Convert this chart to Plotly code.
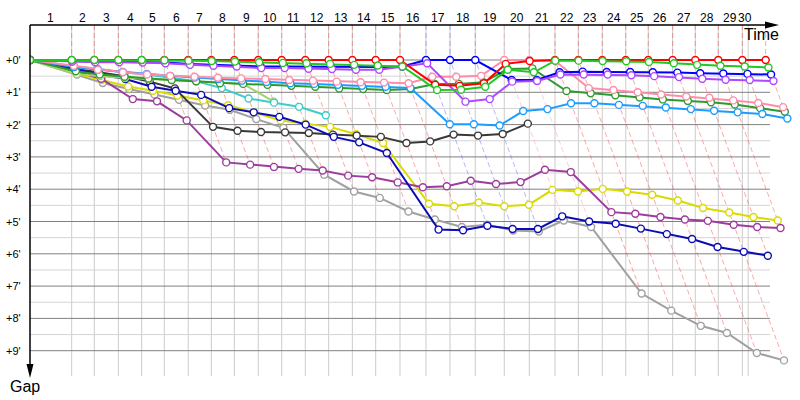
import plotly.graph_objects as go

# ---------------- data ----------------
lap_numbers = list(range(1, 31))
# leader's elapsed time (minutes) at the end of each lap
lap_end_times = [3.48, 5.37, 7.38, 9.33, 11.22, 13.22, 15.15, 17.07, 19.07, 21.03,
                 23.00, 24.95, 26.93, 28.88, 30.91, 33.08, 35.09, 37.20, 39.62, 41.71,
                 43.86, 45.81, 47.81, 49.77, 51.65, 53.69, 55.58, 57.50, 59.51, 61.46]
window_end = 60.0
gap_ticks = [0, 1, 2, 3, 4, 5, 6, 7, 8, 9]
gap_tick_labels = ["+0'", "+1'", "+2'", "+3'", "+4'", "+5'", "+6'", "+7'", "+8'", "+9'"]

# gaps to leader (minutes) after lap 0..30 (None = lap not completed)
red = [0, 0, 0, 0, 0, 0, 0, 0, 0, 0, 0, 0, 0, 0, 0, 0,
       0.77, 0.80, 0.72, 0.12, 0.03, 0, 0, 0, 0, 0, 0, 0, 0, 0, 0]
green = [0, 0, 0, 0, 0, 0.01, 0.02, 0.03, 0.05, 0.07, 0.09, 0.10, 0.12, 0.15, 0.17, 0.20,
         0.93, 0.92, 0.83, 0.30, 0.38, 0.02, 0.02, 0.03, 0.04, 0.06, 0.10, 0.15, 0.18, 0.20, 0.23]
blue = [0, 0.04, 0.05, 0.05, 0.06, 0.08, 0.12, 0.15, 0.17, 0.20, 0.20, 0.21, 0.22, 0.22, 0.22, 0.20,
        0, 0, 0, 0.62, 0.62, 0.38, 0.36, 0.37, 0.37, 0.38, 0.39, 0.41, 0.42, 0.43, 0.45]
purple = [0, 0.05, 0.07, 0.07, 0.08, 0.10, 0.15, 0.18, 0.20, 0.25, 0.25, 0.27, 0.28, 0.30, 0.30, 0.20,
          0.10, 1.29, 1.21, 0.67, 0.65, 0.45, 0.45, 0.45, 0.47, 0.50, 0.53, 0.58, 0.61, 0.62, 0.65]
pink = [0, 0.18, 0.30, 0.38, 0.45, 0.49, 0.52, 0.55, 0.57, 0.59, 0.62, 0.64, 0.67, 0.69, 0.70, 0.72,
        0.52, 0.52, 0.49, 0, 0, 0.04, 0.87, 0.93, 1.00, 1.07, 1.13, 1.17, 1.25, 1.33, 1.46]
dark_green = [0, 0.35, 0.45, 0.52, 0.57, 0.62, 0.66, 0.72, 0.74, 0.77, 0.80, 0.83, 0.88, 0.90, 0.93, 0.90,
              0.74, 0.74, 0.69, 0.28, 0.26, 0.96, 1.03, 1.09, 1.16, 1.22, 1.27, 1.31, 1.38, 1.49, 1.60]
light_blue = [0, 0.22, 0.30, 0.37, 0.43, 0.49, 0.54, 0.59, 0.64, 0.68, 0.72, 0.74, 0.77, 0.80, 0.83, 0.87,
              1.99, 1.99, 2.03, 1.58, 1.52, 1.34, 1.34, 1.39, 1.42, 1.47, 1.52, 1.57, 1.62, 1.67, 1.81]
cyan = [0, 0.20, 0.27, 0.38, 0.45, 0.56, 0.66, 0.87, 1.19, 1.32, 1.45, 1.71] + [None] * 19
light_green = [0, 0.43, 0.50, 0.56, 0.59, 0.62, 0.65, 0.70, 0.74, 1.29] + [None] * 21
navy = [0, 0.30, 0.45, 0.59, 0.83, 0.95, 1.08, 1.49, 1.62, 1.76, 2.00, 2.38, 2.55, 2.88, 5.25, 5.27,
        5.13, 5.23, 5.23, 4.84, 5.00, 5.07, 5.22, 5.39, 5.54, 5.79, 5.94, 6.06, None, None, None]
yellow = [0, 0.43, 0.62, 0.82, 0.95, 1.10, 1.25, 1.40, 1.62, 1.87, 1.97, 2.07, 2.30, 2.57, 4.45, 4.53,
          4.41, 4.53, 4.48, 4.02, 4.07, 3.99, 4.07, 4.17, 4.35, 4.58, 4.72, 4.86, 4.97, None, None]
gray = [0, 0.45, 0.71, 0.90, 1.07, 1.23, 1.41, 1.54, 1.83, 2.10, 3.55, 4.07, 4.27, 4.69, 4.94, 5.17,
        5.10, 5.28, 5.31, 4.97, 5.17, 7.23, 7.76, 8.23, 8.45, 9.07, 9.30, None, None, None, None]
magenta = [0, 0.35, 0.58, 1.21, 1.28, 1.87, 3.17, 3.24, 3.31, 3.37, 3.42, 3.58, 3.63, 3.79, 3.94, 3.91,
           3.74, 3.84, 3.78, 3.40, 3.47, 4.71, 4.76, 4.86, 4.94, 4.98, 5.10, 5.17, 5.20, None, None]
black = [0, 0.28, 0.38, 0.50, 0.67, 0.88, 2.07, 2.19, 2.23, 2.24, 2.26, 2.31, 2.34, 2.38, 2.57, 2.52,
         2.31, 2.34, 2.29, 1.97] + [None] * 11

# drawing order (bottom -> top) and colours
series = [
    ("gray", gray, "#a0a0a0"),
    ("yellow", yellow, "#dada00"),
    ("magenta", magenta, "#9c3c9c"),
    ("black", black, "#383838"),
    ("navy", navy, "#0c0cb4"),
    ("light_green", light_green, "#a4d068"),
    ("cyan", cyan, "#3ccccc"),
    ("dark_green", dark_green, "#2e9a2e"),
    ("light_blue", light_blue, "#1c9cff"),
    ("pink", pink, "#ff8ca8"),
    ("blue", blue, "#0000ff"),
    ("purple", purple, "#b048ff"),
    ("red", red, "#ff0000"),
    ("green", green, "#22c822"),
]
lap_line_colors = {"red": "rgba(255,70,70,0.48)", "blue": "rgba(80,80,255,0.42)",
                   "pink": "rgba(255,140,168,0.45)"}

# ---------------- geometry ----------------
W, H = 800, 400
L, T, R, B = 30, 25, 0, 24
PW, PH = W - L - R, H - T - B
X_PX_PER_MIN = 11.97
Y_PX_PER_MIN = 32.3
Y0_PX = 60  # pixel row of gap 0
x_max = PW / X_PX_PER_MIN
y_top = -(Y0_PX - T) / Y_PX_PER_MIN
y_bot = (H - B - Y0_PX) / Y_PX_PER_MIN
grid_right = (770 - L) / X_PX_PER_MIN


def xp(px):
    return (px - L) / PW


def yp(py):
    return (H - B - py) / PH


times = [0.0] + lap_end_times
fig = go.Figure()

# lap lines (dashed), coloured by leader
lookup = {name: vals for name, vals, _ in series}
priority = ["red", "blue", "pink", "green", "purple"]
for k in range(1, 31):
    gaps = [vals[k] for _, vals, _ in series if vals[k] is not None]
    gmax = max(gaps)
    leader = min(priority, key=lambda n: (lookup[n][k] if lookup[n][k] is not None else 99,
                                          priority.index(n)))
    tk = times[k]
    fig.add_trace(go.Scatter(
        x=[tk, tk, tk + gmax], y=[y_top, 0, gmax], mode="lines",
        line=dict(color=lap_line_colors.get(leader, "rgba(255,70,70,0.48)"), width=1, dash="5px,3px"),
        hoverinfo="skip", showlegend=False))

# series
for name, vals, col in series:
    xs, ys = [], []
    for k, g in enumerate(vals):
        if g is None:
            continue
        xs.append(times[k] + g)
        ys.append(g)
    fig.add_trace(go.Scatter(
        x=xs, y=ys, mode="lines+markers", name=name,
        line=dict(color=col, width=2),
        marker=dict(symbol="circle", size=7, color="white", line=dict(color=col, width=1.4)),
        hoverinfo="skip", showlegend=False))

shapes = []
# vertical grid lines at lap ends (inside the time window) + window end
for t in [t for t in lap_end_times if t <= window_end] + [window_end]:
    shapes.append(dict(type="line", xref="x", yref="paper", x0=t, x1=t, y0=0, y1=1,
                       line=dict(color="#cccccc", width=1), layer="below"))
# horizontal grid lines
for g in gap_ticks:
    shapes.append(dict(type="line", xref="x", yref="y", x0=0, x1=grid_right, y0=g, y1=g,
                       line=dict(color="#808080", width=1), layer="below"))
    if g < 9:
        shapes.append(dict(type="line", xref="x", yref="y", x0=0, x1=grid_right, y0=g + 0.5, y1=g + 0.5,
                           line=dict(color="#d4d4d4", width=1), layer="below"))
# axes with arrows
shapes.append(dict(type="line", xref="paper", yref="paper", x0=0, x1=xp(768), y0=1, y1=1,
                   line=dict(color="black", width=1.5)))
shapes.append(dict(type="path", xref="paper", yref="paper",
                   path=f"M {xp(765)} {yp(21.5)} L {xp(779)} {yp(25)} L {xp(765)} {yp(28.5)} Z",
                   fillcolor="black", line=dict(color="black", width=0)))
shapes.append(dict(type="line", xref="paper", yref="paper", x0=0, x1=0, y0=1, y1=yp(368),
                   line=dict(color="black", width=1.5)))
shapes.append(dict(type="path", xref="paper", yref="paper",
                   path=f"M {xp(26.5)} {yp(364)} L {xp(30)} {yp(378)} L {xp(33.5)} {yp(364)} Z",
                   fillcolor="black", line=dict(color="black", width=0)))

annotations = []
FONT = "DejaVu Sans, Liberation Sans, sans-serif"
FONT2 = "Liberation Sans, Arial, sans-serif"
prev = 0.0
for n, t in zip(lap_numbers, lap_end_times):
    cx = (prev + min(t, window_end)) / 2
    annotations.append(dict(x=cx, y=yp(17.5), xref="x", yref="paper", text=str(n), showarrow=False,
                            font=dict(family=FONT2, size=12, color="black"),
                            xanchor="center", yanchor="middle"))
    prev = t
for g, lab in zip(gap_ticks, gap_tick_labels):
    annotations.append(dict(x=xp(23), y=g, xref="paper", yref="y", text=lab, showarrow=False,
                            font=dict(family=FONT2, size=11, color="black"),
                            xanchor="right", yanchor="middle"))
annotations.append(dict(x=xp(761), y=yp(35), xref="paper", yref="paper", text="Time", showarrow=False,
                        font=dict(family=FONT2, size=16, color="black"), xanchor="center", yanchor="middle"))
annotations.append(dict(x=xp(25), y=yp(386), xref="paper", yref="paper", text="Gap", showarrow=False,
                        font=dict(family=FONT2, size=16, color="black"), xanchor="center", yanchor="middle"))

fig.update_layout(
    width=W, height=H, autosize=False,
    margin=dict(l=L, r=R, t=T, b=B, pad=0),
    paper_bgcolor="white", plot_bgcolor="white",
    xaxis=dict(range=[0, x_max], visible=False, fixedrange=True),
    yaxis=dict(range=[y_bot, y_top], visible=False, fixedrange=True),
    shapes=shapes, annotations=annotations, showlegend=False, hovermode=False,
)

fig.write_html("out.html", config={"displayModeBar": False},
               post_script="document.body.style.margin='0';document.body.style.padding='0';")
